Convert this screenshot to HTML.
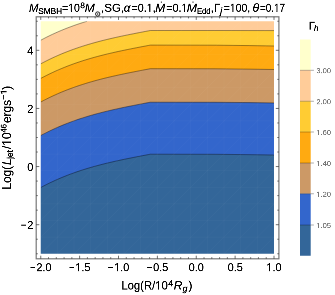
<!DOCTYPE html>
<html><head><meta charset="utf-8">
<style>
html,body{margin:0;padding:0;background:#fff;}
body{width:335px;height:295px;position:relative;overflow:hidden;font-family:"Liberation Sans",sans-serif;color:#000;}
svg{position:absolute;left:0;top:0;}
#txt{position:absolute;left:0;top:0;width:1340px;height:1180px;transform-origin:0 0;transform:scale(0.25);will-change:transform;}
.c{position:absolute;white-space:nowrap;line-height:1;transform-origin:0 0;-webkit-text-stroke:0.7px #000;}
.xl{text-align:center;}
.mn{display:inline-block;transform:scaleX(0.86);transform-origin:0 50%;}
.yt{text-align:right;}
.ll{color:#777;-webkit-text-stroke:0.5px #777;}
i{font-style:italic}
.o{display:inline-block;clip-path:polygon(0 0,100% 0,100% 73.2%,62% 73.2%,62% 100%,44.3% 100%,44.3% 73.2%,0 73.2%);}
</style></head><body>
<svg width="335" height="295" viewBox="0 0 335 295">
<g>
<rect x="37.75" y="18.25" width="239.25" height="238.5" fill="#FFCC99"/>
<polygon points="37.75,18.25 37.75,40.22 40.75,40.22 43.75,38.63 46.75,37.10 49.75,35.62 52.75,34.20 55.75,32.83 58.75,31.51 61.75,30.24 64.75,29.02 67.75,27.84 70.75,26.71 73.75,25.61 76.75,24.56 79.75,23.55 82.75,22.58 85.75,21.64 87.03,21.25 90.03,18.25" fill="#FFFFCC"/>
<polygon points="37.75,63.82 40.75,63.82 43.75,62.23 46.75,60.70 49.75,59.22 52.75,57.80 55.75,56.43 58.75,55.11 61.75,53.84 64.75,52.62 67.75,51.44 70.75,50.31 73.75,49.21 76.75,48.16 79.75,47.15 82.75,46.18 85.75,45.24 88.75,44.33 91.75,43.46 94.75,42.61 97.75,41.80 100.75,41.01 103.75,40.25 106.75,39.51 109.75,38.80 112.75,38.11 115.75,37.43 118.75,36.77 121.75,36.13 124.75,35.50 127.75,34.89 130.75,34.29 133.75,33.69 136.75,33.10 139.75,32.52 142.75,31.94 145.75,31.37 148.75,30.80 150.30,30.50 180.00,30.50 215.00,30.51 235.00,30.53 250.00,30.55 262.00,30.57 274.00,30.59 277.00,30.59 277.00,256.75 37.75,256.75" fill="#FFCC33"/>
<polygon points="37.75,78.42 40.75,78.42 43.75,76.83 46.75,75.30 49.75,73.82 52.75,72.40 55.75,71.03 58.75,69.71 61.75,68.44 64.75,67.22 67.75,66.04 70.75,64.91 73.75,63.81 76.75,62.76 79.75,61.75 82.75,60.78 85.75,59.84 88.75,58.93 91.75,58.06 94.75,57.21 97.75,56.40 100.75,55.61 103.75,54.85 106.75,54.11 109.75,53.40 112.75,52.71 115.75,52.03 118.75,51.37 121.75,50.73 124.75,50.10 127.75,49.49 130.75,48.89 133.75,48.29 136.75,47.70 139.75,47.12 142.75,46.54 145.75,45.97 148.75,45.40 150.30,45.10 180.00,45.15 215.00,45.20 235.00,45.43 250.00,45.60 262.00,45.80 274.00,46.00 277.00,46.00 277.00,256.75 37.75,256.75" fill="#FFAA11"/>
<polygon points="37.75,102.02 40.75,102.02 43.75,100.43 46.75,98.90 49.75,97.42 52.75,96.00 55.75,94.63 58.75,93.31 61.75,92.04 64.75,90.82 67.75,89.64 70.75,88.51 73.75,87.41 76.75,86.36 79.75,85.35 82.75,84.38 85.75,83.44 88.75,82.53 91.75,81.66 94.75,80.81 97.75,80.00 100.75,79.21 103.75,78.45 106.75,77.71 109.75,77.00 112.75,76.31 115.75,75.63 118.75,74.97 121.75,74.33 124.75,73.70 127.75,73.09 130.75,72.49 133.75,71.89 136.75,71.30 139.75,70.72 142.75,70.14 145.75,69.57 148.75,69.00 150.30,68.70 180.00,68.74 215.00,68.79 235.00,69.00 250.00,69.15 262.00,69.33 274.00,69.51 277.00,69.51 277.00,256.75 37.75,256.75" fill="#CC9966"/>
<polygon points="37.75,135.52 40.75,135.52 43.75,133.93 46.75,132.40 49.75,130.92 52.75,129.50 55.75,128.13 58.75,126.81 61.75,125.54 64.75,124.32 67.75,123.14 70.75,122.01 73.75,120.91 76.75,119.86 79.75,118.85 82.75,117.88 85.75,116.94 88.75,116.03 91.75,115.16 94.75,114.31 97.75,113.50 100.75,112.71 103.75,111.95 106.75,111.21 109.75,110.50 112.75,109.81 115.75,109.13 118.75,108.47 121.75,107.83 124.75,107.20 127.75,106.59 130.75,105.99 133.75,105.39 136.75,104.80 139.75,104.22 142.75,103.64 145.75,103.07 148.75,102.50 150.30,102.20 180.00,102.24 215.00,102.28 235.00,102.46 250.00,102.60 262.00,102.76 274.00,102.92 277.00,102.92 277.00,256.75 37.75,256.75" fill="#3366CC"/>
<polygon points="37.75,187.52 40.75,187.52 43.75,185.93 46.75,184.40 49.75,182.92 52.75,181.50 55.75,180.13 58.75,178.81 61.75,177.54 64.75,176.32 67.75,175.14 70.75,174.01 73.75,172.91 76.75,171.86 79.75,170.85 82.75,169.88 85.75,168.94 88.75,168.03 91.75,167.16 94.75,166.31 97.75,165.50 100.75,164.71 103.75,163.95 106.75,163.21 109.75,162.50 112.75,161.81 115.75,161.13 118.75,160.47 121.75,159.83 124.75,159.20 127.75,158.59 130.75,157.99 133.75,157.39 136.75,156.80 139.75,156.22 142.75,155.64 145.75,155.07 148.75,154.50 150.30,154.20 180.00,154.24 215.00,154.29 235.00,154.50 250.00,154.65 262.00,154.83 274.00,155.01 277.00,155.01 277.00,256.75 37.75,256.75" fill="#336699"/>
<polyline points="40.75,40.22 43.75,38.63 46.75,37.10 49.75,35.62 52.75,34.20 55.75,32.83 58.75,31.51 61.75,30.24 64.75,29.02 67.75,27.84 70.75,26.71 73.75,25.61 76.75,24.56 79.75,23.55 82.75,22.58 85.75,21.64 87.03,21.25" fill="none" stroke="#000" stroke-opacity="0.7" stroke-width="0.55"/>
<polyline points="40.75,63.82 43.75,62.23 46.75,60.70 49.75,59.22 52.75,57.80 55.75,56.43 58.75,55.11 61.75,53.84 64.75,52.62 67.75,51.44 70.75,50.31 73.75,49.21 76.75,48.16 79.75,47.15 82.75,46.18 85.75,45.24 88.75,44.33 91.75,43.46 94.75,42.61 97.75,41.80 100.75,41.01 103.75,40.25 106.75,39.51 109.75,38.80 112.75,38.11 115.75,37.43 118.75,36.77 121.75,36.13 124.75,35.50 127.75,34.89 130.75,34.29 133.75,33.69 136.75,33.10 139.75,32.52 142.75,31.94 145.75,31.37 148.75,30.80 150.30,30.50 180.00,30.50 215.00,30.51 235.00,30.53 250.00,30.55 262.00,30.57 274.00,30.59" fill="none" stroke="#000" stroke-opacity="0.7" stroke-width="0.55"/>
<polyline points="40.75,78.42 43.75,76.83 46.75,75.30 49.75,73.82 52.75,72.40 55.75,71.03 58.75,69.71 61.75,68.44 64.75,67.22 67.75,66.04 70.75,64.91 73.75,63.81 76.75,62.76 79.75,61.75 82.75,60.78 85.75,59.84 88.75,58.93 91.75,58.06 94.75,57.21 97.75,56.40 100.75,55.61 103.75,54.85 106.75,54.11 109.75,53.40 112.75,52.71 115.75,52.03 118.75,51.37 121.75,50.73 124.75,50.10 127.75,49.49 130.75,48.89 133.75,48.29 136.75,47.70 139.75,47.12 142.75,46.54 145.75,45.97 148.75,45.40 150.30,45.10 180.00,45.15 215.00,45.20 235.00,45.43 250.00,45.60 262.00,45.80 274.00,46.00" fill="none" stroke="#000" stroke-opacity="0.7" stroke-width="0.55"/>
<polyline points="40.75,102.02 43.75,100.43 46.75,98.90 49.75,97.42 52.75,96.00 55.75,94.63 58.75,93.31 61.75,92.04 64.75,90.82 67.75,89.64 70.75,88.51 73.75,87.41 76.75,86.36 79.75,85.35 82.75,84.38 85.75,83.44 88.75,82.53 91.75,81.66 94.75,80.81 97.75,80.00 100.75,79.21 103.75,78.45 106.75,77.71 109.75,77.00 112.75,76.31 115.75,75.63 118.75,74.97 121.75,74.33 124.75,73.70 127.75,73.09 130.75,72.49 133.75,71.89 136.75,71.30 139.75,70.72 142.75,70.14 145.75,69.57 148.75,69.00 150.30,68.70 180.00,68.74 215.00,68.79 235.00,69.00 250.00,69.15 262.00,69.33 274.00,69.51" fill="none" stroke="#000" stroke-opacity="0.7" stroke-width="0.55"/>
<polyline points="40.75,135.52 43.75,133.93 46.75,132.40 49.75,130.92 52.75,129.50 55.75,128.13 58.75,126.81 61.75,125.54 64.75,124.32 67.75,123.14 70.75,122.01 73.75,120.91 76.75,119.86 79.75,118.85 82.75,117.88 85.75,116.94 88.75,116.03 91.75,115.16 94.75,114.31 97.75,113.50 100.75,112.71 103.75,111.95 106.75,111.21 109.75,110.50 112.75,109.81 115.75,109.13 118.75,108.47 121.75,107.83 124.75,107.20 127.75,106.59 130.75,105.99 133.75,105.39 136.75,104.80 139.75,104.22 142.75,103.64 145.75,103.07 148.75,102.50 150.30,102.20 180.00,102.24 215.00,102.28 235.00,102.46 250.00,102.60 262.00,102.76 274.00,102.92" fill="none" stroke="#000" stroke-opacity="0.7" stroke-width="0.55"/>
<polyline points="40.75,187.52 43.75,185.93 46.75,184.40 49.75,182.92 52.75,181.50 55.75,180.13 58.75,178.81 61.75,177.54 64.75,176.32 67.75,175.14 70.75,174.01 73.75,172.91 76.75,171.86 79.75,170.85 82.75,169.88 85.75,168.94 88.75,168.03 91.75,167.16 94.75,166.31 97.75,165.50 100.75,164.71 103.75,163.95 106.75,163.21 109.75,162.50 112.75,161.81 115.75,161.13 118.75,160.47 121.75,159.83 124.75,159.20 127.75,158.59 130.75,157.99 133.75,157.39 136.75,156.80 139.75,156.22 142.75,155.64 145.75,155.07 148.75,154.50 150.30,154.20 180.00,154.24 215.00,154.29 235.00,154.50 250.00,154.65 262.00,154.83 274.00,155.01" fill="none" stroke="#000" stroke-opacity="0.7" stroke-width="0.55"/>
<path d="M57.41 21.25V253.75 M40.75 37.86H274.0 M74.07 21.25V253.75 M40.75 54.46H274.0 M90.73 21.25V253.75 M40.75 71.07H274.0 M107.39 21.25V253.75 M40.75 87.68H274.0 M124.05 21.25V253.75 M40.75 104.29H274.0 M140.71 21.25V253.75 M40.75 120.89H274.0 M157.38 21.25V253.75 M40.75 137.50H274.0 M174.04 21.25V253.75 M40.75 154.11H274.0 M190.70 21.25V253.75 M40.75 170.71H274.0 M207.36 21.25V253.75 M40.75 187.32H274.0 M224.02 21.25V253.75 M40.75 203.93H274.0 M240.68 21.25V253.75 M40.75 220.54H274.0 M257.34 21.25V253.75 M40.75 237.14H274.0 M-192.50 253.75L40.75 21.25 M-175.84 253.75L57.41 21.25 M-159.18 253.75L74.07 21.25 M-142.52 253.75L90.73 21.25 M-125.86 253.75L107.39 21.25 M-109.20 253.75L124.05 21.25 M-92.54 253.75L140.71 21.25 M-75.88 253.75L157.38 21.25 M-59.21 253.75L174.04 21.25 M-42.55 253.75L190.70 21.25 M-25.89 253.75L207.36 21.25 M-9.23 253.75L224.02 21.25 M7.43 253.75L240.68 21.25 M24.09 253.75L257.34 21.25 M40.75 253.75L274.00 21.25 M57.41 253.75L290.66 21.25 M74.07 253.75L307.32 21.25 M90.73 253.75L323.98 21.25 M107.39 253.75L340.64 21.25 M124.05 253.75L357.30 21.25 M140.71 253.75L373.96 21.25 M157.38 253.75L390.62 21.25 M174.04 253.75L407.29 21.25 M190.70 253.75L423.95 21.25 M207.36 253.75L440.61 21.25 M224.02 253.75L457.27 21.25 M240.68 253.75L473.93 21.25 M257.34 253.75L490.59 21.25 M274.00 253.75L507.25 21.25" stroke="#fff" stroke-opacity="0.045" stroke-width="0.7" fill="none"/>
</g>
<path fill-rule="evenodd" fill="#fff" d="M36.25 17.05H278.5V258.25H36.25Z M40.75 21.25H274.0V253.75H40.75Z"/>
<rect x="36.2" y="16.8" width="242.7" height="242.0" fill="none" stroke="#777" stroke-width="1.2"/>
<path d="M40.75 258.8 v-3.1 M40.75 16.8 v3.1 M48.53 258.8 v-1.6 M48.53 16.8 v1.6 M56.30 258.8 v-1.6 M56.30 16.8 v1.6 M64.08 258.8 v-1.6 M64.08 16.8 v1.6 M71.85 258.8 v-1.6 M71.85 16.8 v1.6 M79.62 258.8 v-3.1 M79.62 16.8 v3.1 M87.40 258.8 v-1.6 M87.40 16.8 v1.6 M95.18 258.8 v-1.6 M95.18 16.8 v1.6 M102.95 258.8 v-1.6 M102.95 16.8 v1.6 M110.72 258.8 v-1.6 M110.72 16.8 v1.6 M118.50 258.8 v-3.1 M118.50 16.8 v3.1 M126.28 258.8 v-1.6 M126.28 16.8 v1.6 M134.05 258.8 v-1.6 M134.05 16.8 v1.6 M141.82 258.8 v-1.6 M141.82 16.8 v1.6 M149.60 258.8 v-1.6 M149.60 16.8 v1.6 M157.38 258.8 v-3.1 M157.38 16.8 v3.1 M165.15 258.8 v-1.6 M165.15 16.8 v1.6 M172.93 258.8 v-1.6 M172.93 16.8 v1.6 M180.70 258.8 v-1.6 M180.70 16.8 v1.6 M188.48 258.8 v-1.6 M188.48 16.8 v1.6 M196.25 258.8 v-3.1 M196.25 16.8 v3.1 M204.03 258.8 v-1.6 M204.03 16.8 v1.6 M211.80 258.8 v-1.6 M211.80 16.8 v1.6 M219.58 258.8 v-1.6 M219.58 16.8 v1.6 M227.35 258.8 v-1.6 M227.35 16.8 v1.6 M235.12 258.8 v-3.1 M235.12 16.8 v3.1 M242.90 258.8 v-1.6 M242.90 16.8 v1.6 M250.68 258.8 v-1.6 M250.68 16.8 v1.6 M258.45 258.8 v-1.6 M258.45 16.8 v1.6 M266.23 258.8 v-1.6 M266.23 16.8 v1.6 M274.00 258.8 v-3.1 M274.00 16.8 v3.1 M36.2 253.75 h1.6 M278.9 253.75 h-1.6 M36.2 239.22 h1.6 M278.9 239.22 h-1.6 M36.2 224.69 h3.1 M278.9 224.69 h-3.1 M36.2 210.16 h1.6 M278.9 210.16 h-1.6 M36.2 195.62 h1.6 M278.9 195.62 h-1.6 M36.2 181.09 h1.6 M278.9 181.09 h-1.6 M36.2 166.56 h3.1 M278.9 166.56 h-3.1 M36.2 152.03 h1.6 M278.9 152.03 h-1.6 M36.2 137.50 h1.6 M278.9 137.50 h-1.6 M36.2 122.97 h1.6 M278.9 122.97 h-1.6 M36.2 108.44 h3.1 M278.9 108.44 h-3.1 M36.2 93.91 h1.6 M278.9 93.91 h-1.6 M36.2 79.38 h1.6 M278.9 79.38 h-1.6 M36.2 64.84 h1.6 M278.9 64.84 h-1.6 M36.2 50.31 h3.1 M278.9 50.31 h-3.1 M36.2 35.78 h1.6 M278.9 35.78 h-1.6 M36.2 21.25 h1.6 M278.9 21.25 h-1.6" stroke="#333" stroke-width="0.7" fill="none"/>
<rect x="300.0" y="39.5" width="10.699999999999989" height="30.799999999999997" fill="#FFFFCC"/>
<rect x="300.0" y="70.3" width="10.699999999999989" height="30.950000000000003" fill="#FFCC99"/>
<rect x="300.0" y="101.25" width="10.699999999999989" height="30.75" fill="#FFCC33"/>
<rect x="300.0" y="132" width="10.699999999999989" height="31" fill="#FFAA11"/>
<rect x="300.0" y="163" width="10.699999999999989" height="30.75" fill="#CC9966"/>
<rect x="300.0" y="193.75" width="10.699999999999989" height="31.25" fill="#3366CC"/>
<rect x="300.0" y="225" width="10.699999999999989" height="30.75" fill="#336699"/>
<path d="M300.0 70.3 H310.7" stroke="#000" stroke-opacity="0.45" stroke-width="0.6"/>
<path d="M310.7 70.3 h3.2" stroke="#777" stroke-width="0.6"/>
<path d="M300.0 101.25 H310.7" stroke="#000" stroke-opacity="0.45" stroke-width="0.6"/>
<path d="M310.7 101.25 h3.2" stroke="#777" stroke-width="0.6"/>
<path d="M300.0 132 H310.7" stroke="#000" stroke-opacity="0.45" stroke-width="0.6"/>
<path d="M310.7 132 h3.2" stroke="#777" stroke-width="0.6"/>
<path d="M300.0 163 H310.7" stroke="#000" stroke-opacity="0.45" stroke-width="0.6"/>
<path d="M310.7 163 h3.2" stroke="#777" stroke-width="0.6"/>
<path d="M300.0 193.75 H310.7" stroke="#000" stroke-opacity="0.45" stroke-width="0.6"/>
<path d="M310.7 193.75 h3.2" stroke="#777" stroke-width="0.6"/>
<path d="M300.0 225 H310.7" stroke="#000" stroke-opacity="0.45" stroke-width="0.6"/>
<path d="M310.7 225 h3.2" stroke="#777" stroke-width="0.6"/>
<circle cx="97.7" cy="14.0" r="2.15" fill="none" stroke="#000" stroke-width="0.85"/><circle cx="97.7" cy="14.0" r="0.65" fill="#000"/>
<circle cx="161.4" cy="2.1" r="0.65" fill="#000"/><circle cx="193.0" cy="2.1" r="0.65" fill="#000"/>
</svg>
<div id="txt">
<div class="c" style="left:115.8px;top:8.2px;font-size:46.8px;transform:scaleX(0.973);"><i>M</i></div>
<div class="c" style="left:153.0px;top:28.0px;font-size:33.6px;transform:scaleX(0.983);-webkit-text-stroke-width:1.1px;">SMBH</div>
<div class="c" style="left:248.0px;top:8.2px;font-size:46.8px;transform:scaleX(0.9);">=<span class="o">1</span>0</div>
<div class="c" style="left:320.9px;top:5.2px;font-size:33.6px;transform:scaleX(1.0);-webkit-text-stroke-width:1.1px;">8</div>
<div class="c" style="left:339.0px;top:8.2px;font-size:46.8px;transform:scaleX(1.027);"><i>M</i></div>
<div class="c" style="left:403.8px;top:8.2px;font-size:46.8px;transform:scaleX(0.993);">,SG,</div>
<div class="c" style="left:495.0px;top:8.2px;font-size:46.8px;transform:scaleX(1.0);"><i>&alpha;</i></div>
<div class="c" style="left:525.6px;top:8.2px;font-size:46.8px;transform:scaleX(0.917);">=0.<span class="o">1</span>,</div>
<div class="c" style="left:621.4px;top:8.2px;font-size:46.8px;transform:scaleX(1.027);"><i>M</i></div>
<div class="c" style="left:665.2px;top:8.2px;font-size:46.8px;transform:scaleX(0.92);">=0.<span class="o">1</span></div>
<div class="c" style="left:746.5px;top:8.2px;font-size:46.8px;transform:scaleX(1.059);"><i>M</i></div>
<div class="c" style="left:787.9px;top:28.0px;font-size:33.6px;transform:scaleX(0.902);-webkit-text-stroke-width:1.1px;">Edd</div>
<div class="c" style="left:843.2px;top:8.2px;font-size:46.8px;transform:scaleX(0.92);">,</div>
<div class="c" style="left:855.9px;top:8.2px;font-size:46.8px;transform:scaleX(0.971);">&Gamma;</div>
<div class="c" style="left:880.5px;top:27.2px;font-size:36.0px;transform:scaleX(1.0);-webkit-text-stroke-width:1.1px;"><i>j</i></div>
<div class="c" style="left:894.8px;top:8.2px;font-size:46.8px;transform:scaleX(0.893);">=<span class="o">1</span>00,</div>
<div class="c" style="left:1010.1px;top:8.2px;font-size:46.8px;transform:scaleX(1.061);"><i>&theta;</i></div>
<div class="c" style="left:1039.7px;top:8.2px;font-size:46.8px;transform:scaleX(0.846);">=0.<span class="o">1</span>7</div>
<div class="c" style="left:486.1px;top:1117.0px;font-size:48.8px;transform:scaleX(0.916);">Log(</div>
<div class="c" style="left:576.1px;top:1117.0px;font-size:48.8px;transform:scaleX(0.924);">R/<span class="o">1</span>0</div>
<div class="c" style="left:673.0px;top:1114.8px;font-size:35.2px;transform:scaleX(1.0);-webkit-text-stroke-width:1.1px;">4</div>
<div class="c" style="left:695.4px;top:1117.0px;font-size:48.8px;transform:scaleX(0.975);"><i>R</i></div>
<div class="c" style="left:730.3px;top:1136.0px;font-size:35.2px;transform:scaleX(1.0);-webkit-text-stroke-width:1.1px;"><i>g</i></div>
<div class="c" style="left:753.6px;top:1117.0px;font-size:48.8px;transform:scaleX(1.0);">)</div>
<div class="c" style="left:1235.0px;top:81.4px;font-size:44.0px;transform:scaleX(1.011);">&Gamma;</div>
<div class="c" style="left:1255.9px;top:96.2px;font-size:32.0px;transform:scaleX(1.0);-webkit-text-stroke-width:1.1px;"><i>h</i></div>
<div id="yl" style="position:absolute;left:0;top:0;width:0;height:0;transform-origin:0 0;transform:translate(44.0px,755.2px) rotate(-90deg)"><div class="c" style="left:-3.2px;top:-41.0px;font-size:49.6px;transform:scaleX(0.952);">Log(</div><div class="c" style="left:94.8px;top:-41.0px;font-size:49.6px;transform:scaleX(0.95);"><i>L</i></div><div class="c" style="left:119.6px;top:-21.2px;font-size:33.2px;transform:scaleX(1.0);-webkit-text-stroke-width:1.1px;">jet</div><div class="c" style="left:158.6px;top:-41.0px;font-size:49.6px;transform:scaleX(0.967);">/<span class="o">1</span>0</div><div class="c" style="left:225.3px;top:-45.6px;font-size:33.2px;transform:scaleX(0.914);-webkit-text-stroke-width:1.1px;">46</div><div class="c" style="left:263.1px;top:-41.0px;font-size:49.6px;transform:scaleX(0.959);">ergs</div><div class="c" style="left:356.0px;top:-45.6px;font-size:33.2px;transform:scaleX(1.09);-webkit-text-stroke-width:1.1px;">&minus;<span class="o">1</span></div><div class="c" style="left:395.8px;top:-41.0px;font-size:49.6px;transform:scaleX(1.0);">)</div></div>
<div class="c xl" style="left:63.0px;top:1046.2px;width:200px;font-size:46.8px;transform:scaleX(0.93);transform-origin:50% 0"><span class="mn">−</span>2.0</div>
<div class="c xl" style="left:218.5px;top:1046.2px;width:200px;font-size:46.8px;transform:scaleX(0.93);transform-origin:50% 0"><span class="mn">−</span><span class="o">1</span>.5</div>
<div class="c xl" style="left:374.0px;top:1046.2px;width:200px;font-size:46.8px;transform:scaleX(0.93);transform-origin:50% 0"><span class="mn">−</span><span class="o">1</span>.0</div>
<div class="c xl" style="left:529.5px;top:1046.2px;width:200px;font-size:46.8px;transform:scaleX(0.93);transform-origin:50% 0"><span class="mn">−</span>0.5</div>
<div class="c xl" style="left:685.0px;top:1046.2px;width:200px;font-size:46.8px;transform:scaleX(0.93);transform-origin:50% 0">0.0</div>
<div class="c xl" style="left:840.5px;top:1046.2px;width:200px;font-size:46.8px;transform:scaleX(0.93);transform-origin:50% 0">0.5</div>
<div class="c xl" style="left:996.0px;top:1046.2px;width:200px;font-size:46.8px;transform:scaleX(0.93);transform-origin:50% 0"><span class="o">1</span>.0</div>
<div class="c yt" style="left:0;top:877.0px;width:133.2px;font-size:46.8px;transform:scaleX(0.93);transform-origin:100% 0"><span class="mn">−</span>2</div>
<div class="c yt" style="left:0;top:644.5px;width:133.2px;font-size:46.8px;transform:scaleX(0.93);transform-origin:100% 0">0</div>
<div class="c yt" style="left:0;top:411.9px;width:133.2px;font-size:46.8px;transform:scaleX(0.93);transform-origin:100% 0">2</div>
<div class="c yt" style="left:0;top:179.4px;width:133.2px;font-size:46.8px;transform:scaleX(0.93);transform-origin:100% 0">4</div>
<div class="c ll" style="left:1265.6px;top:268.0px;font-size:30.0px">3.00</div>
<div class="c ll" style="left:1265.6px;top:391.8px;font-size:30.0px">2.00</div>
<div class="c ll" style="left:1265.6px;top:514.8px;font-size:30.0px"><span class="o">1</span>.60</div>
<div class="c ll" style="left:1265.6px;top:638.8px;font-size:30.0px"><span class="o">1</span>.40</div>
<div class="c ll" style="left:1265.6px;top:761.8px;font-size:30.0px"><span class="o">1</span>.20</div>
<div class="c ll" style="left:1265.6px;top:886.8px;font-size:30.0px"><span class="o">1</span>.05</div>
</div>
</body></html>
